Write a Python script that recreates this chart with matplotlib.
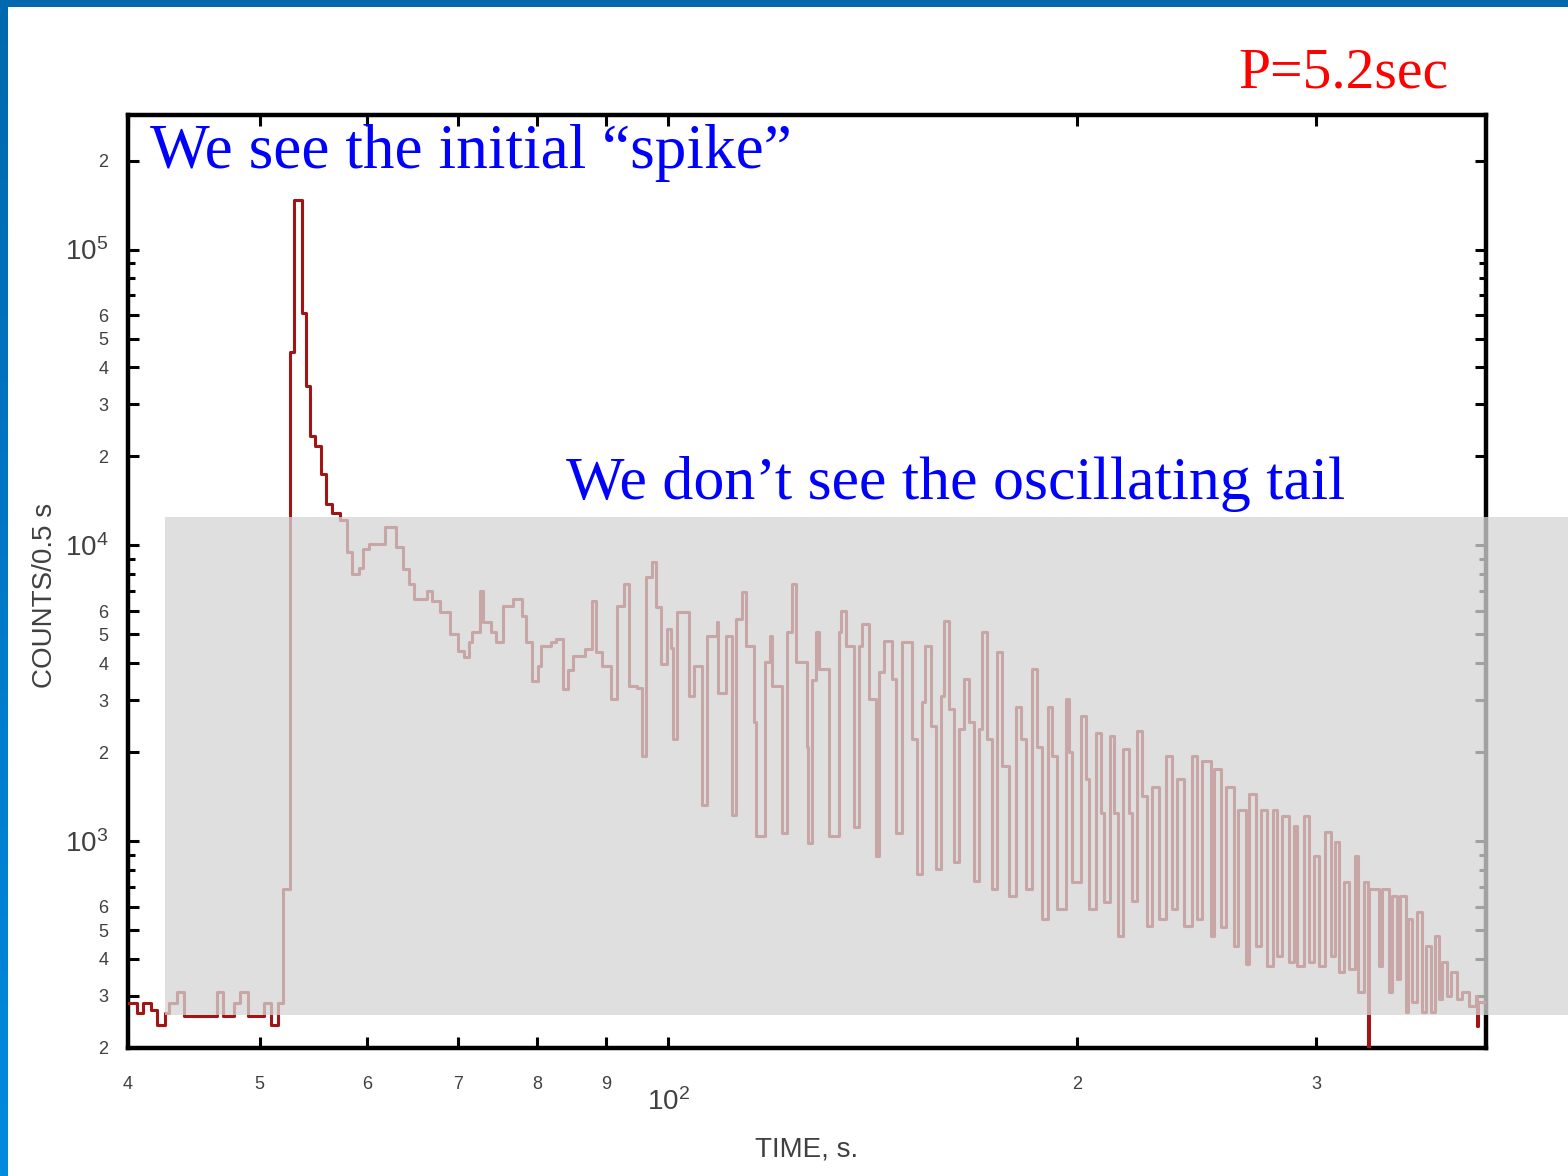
import numpy as np
import matplotlib.pyplot as plt
from matplotlib.patches import Rectangle
from matplotlib.colors import LinearSegmentedColormap
from matplotlib.ticker import FixedLocator, NullFormatter
from matplotlib.transforms import ScaledTranslation

plt.rcParams['mathtext.fontset'] = 'custom'
plt.rcParams['mathtext.rm'] = 'Liberation Sans'
plt.rcParams['mathtext.default'] = 'regular'

# light curve, 0.5 s bins (start time of each step, counts per bin)
time_s = [
    40.0, 40.6, 41.0, 41.6, 42.0, 42.6, 42.9, 43.5, 44.0, 46.5, 47.0, 47.9,
    48.4, 49.0, 50.4, 51.0, 51.6,
    # main spike
    52.0, 52.6, 53.0, 53.7, 54.1, 54.5, 54.9, 55.5, 56.0, 56.5, 57.3, 58.0,
    58.5, 59.2, 59.6, 60.2, 61.8, 63.0, 63.8, 64.4, 65.0, 66.4, 67.0, 67.9,
    69.0, 70.0, 70.7, 71.3, 71.7, 72.6, 73.0, 74.0, 74.7, 75.5, 76.8, 78.0,
    78.6, 79.4, 80.2, 80.6, 82.0, 82.7, 83.6, 84.3, 85.0, 86.8, 87.8, 88.5,
    89.4, 90.8, 91.7, 92.8, 93.6, 94.8, 95.7, 96.3, 97.3, 98.0, 98.8, 99.7,
    100.5, 100.7, 101.5, 103.6, 104.5, 105.9, 106.8, 108.5, 108.7, 110.3,
    111.3, 112.2, 113.2, 114.1, 115.7, 116.1, 117.7, 118.7, 119.3, 121.3,
    122.3, 123.4, 124.2, 126.4, 126.6, 127.6, 128.5, 129.1, 131.3, 133.6,
    134.1, 135.2, 137.0, 138.2, 138.9, 140.6, 142.3, 143.0, 144.2, 146.2,
    147.2, 148.6, 151.2, 152.5, 153.8, 154.6, 156.2, 157.5, 158.8, 159.6,
    161.0, 162.3, 163.7, 165.1, 166.5, 168.0, 169.3, 170.2, 171.7, 173.2,
    174.6, 176.0, 178.2, 180.3, 181.8, 183.4, 185.3, 186.7, 188.4, 190.4,
    191.7, 193.3, 196.3, 197.3, 198.3, 201.4, 203.0, 204.1, 206.5, 208.3,
    209.4, 211.5, 212.9, 214.4, 216.2, 218.4, 219.5, 221.4, 223.3, 225.2,
    227.1, 229.8, 232.5, 234.9, 236.9, 239.8, 243.0, 245.1, 247.2, 251.0,
    252.3, 255.2, 257.4, 260.9, 262.7, 266.3, 267.6, 270.8, 273.1, 275.9,
    278.7, 280.6, 283.0, 286.4, 288.8, 290.3, 293.8, 296.3, 298.8, 301.3,
    304.4, 307.5, 309.6, 311.7, 314.4, 317.1, 320.3, 321.9, 325.2, 327.4,
    328.0, 333.6, 335.3, 339.3, 341.1, 344.0, 345.7, 349.3, 350.5, 352.8,
    355.8, 358.8, 361.3, 364.4, 366.8, 369.3, 371.2, 374.4, 376.9, 380.8,
    384.0, 388.6, 393.2, 393.9, 394.5, 400.0,
]
counts = [
    284, 262, 284, 269, 239, 262, 284, 309, 256, 309, 256, 284,
    309, 256, 284, 239, 284,
    690, 45000, 147000, 61000, 34500, 23400, 21600, 17400, 13800, 12900, 12200, 9500,
    8000, 8400, 9700, 10100, 11500, 9900, 8300, 7400, 6570, 7000, 6500, 5940,
    5000, 4400, 4190, 4700, 5080, 7000, 5500, 5100, 4700, 6220, 6570, 5760,
    4700, 3470, 3900, 4560, 4700, 4810, 3260, 3800, 4220, 4450, 6470, 4350,
    3900, 3020, 6220, 7380, 3340, 3300, 1940, 7800, 8800, 6200, 3960, 5200,
    4500, 2210, 5940, 3090, 3900, 1330, 4930, 5530, 3180, 4930,
    1230, 5620, 6940, 4560, 2520, 1040, 4020, 4930, 3340, 1070,
    5080, 7380, 4020, 2090, 990, 3520, 5080, 3810, 1040, 5080,
    5980, 4560, 1120, 4560, 5410, 3020, 890, 3720, 4740, 3530,
    1070, 4700, 2210, 774, 2950, 4560, 2450, 804, 3090, 5540,
    2790, 849, 2390, 3530, 2520, 733, 2390, 5080, 2210, 688,
    4350, 1790, 652, 2840, 2210, 688, 3810, 2090, 545, 2840,
    1940, 589, 3020, 2000, 727, 2640, 1620, 589, 2330, 1250,
    622, 2260, 1250, 477, 2050, 1250, 627, 2350, 1420, 516,
    1530, 545, 1940, 589, 1620, 516, 1940, 545, 1860, 477,
    1750, 512, 1530, 442, 1280, 384, 1440, 442, 1280, 378,
    1280, 409, 1215, 390, 1124, 378, 1215, 390, 890, 378,
    1072, 409, 992, 361, 727, 369, 890, 309, 727, 190,
    688, 378, 688, 309, 652, 342, 652, 264, 545, 286,
    576, 264, 442, 264, 477, 292, 390, 300, 361, 292,
    309, 277, 300, 237, 286, 286,
]

x_major = [40, 50, 60, 70, 80, 90, 100, 200, 300]
x_labels = ['4', '5', '6', '7', '8', '9', r'$10^2$', '2', '3']
y_major = [200, 300, 400, 500, 600, 1e3, 2e3, 3e3, 4e3, 5e3, 6e3,
           1e4, 2e4, 3e4, 4e4, 5e4, 6e4, 1e5, 2e5]
y_labels = ['2', '3', '4', '5', '6', r'$10^3$', '2', '3', '4', '5', '6',
            r'$10^4$', '2', '3', '4', '5', '6', r'$10^5$', '2']
y_minor = [700, 800, 900, 7e3, 8e3, 9e3, 7e4, 8e4, 9e4]

fig = plt.figure(figsize=(15.68, 11.76), dpi=100)
W, H = 1568, 1176

ax = fig.add_axes([128 / W, 1 - 1048 / H, (1486 - 128) / W, (1048 - 115) / H])
ax.step(time_s, counts, where='post', color='#a31515', lw=2.2, zorder=3)

ax.set_xscale('log')
ax.set_yscale('log')
ax.set_xlim(40, 400)
ax.set_ylim(200, 2.85e5)

ax.xaxis.set_major_locator(FixedLocator(x_major))
ax.set_xticklabels(x_labels)
ax.xaxis.set_minor_locator(FixedLocator([]))
ax.yaxis.set_major_locator(FixedLocator(y_major))
ax.set_yticklabels(y_labels)
ax.yaxis.set_minor_locator(FixedLocator(y_minor))
ax.yaxis.set_minor_formatter(NullFormatter())

lab_color = '#404040'
ax.tick_params(which='both', direction='in', top=True, right=True,
               width=2.2, colors='black', labelcolor=lab_color,
               labelsize=13)
ax.tick_params(which='major', length=8)
ax.tick_params(which='minor', length=5)
ax.tick_params(axis='x', pad=20)
ax.tick_params(axis='y', pad=14)
# decade labels are printed larger than the in-between digits
for lab in ax.get_xticklabels() + ax.get_yticklabels():
    lab.set_fontfamily('Liberation Sans')
    if '10^' in lab.get_text():
        lab.set_fontsize(20)
# the 10^2 label sits a little lower than the other time labels
drop = ScaledTranslation(0, -9 / 72, fig.dpi_scale_trans)
for lab in ax.get_xticklabels():
    if '10^' in lab.get_text():
        lab.set_transform(lab.get_transform() + drop)

for sp in ax.spines.values():
    sp.set_linewidth(3.2)

ax.set_xlabel('TIME, s.', fontsize=20, color=lab_color,
              family='Liberation Sans')
ax.xaxis.set_label_coords(0.5, -(1136 - 1048) / (1048 - 115))
ax.xaxis.label.set_va('top')
ax.set_ylabel('COUNTS/0.5 s', fontsize=20, color=lab_color,
              family='Liberation Sans')
ax.yaxis.set_label_coords(-(128 - 58) / (1486 - 128), (1048 - 595) / (1048 - 115))

# translucent panel hiding the tail
fig.add_artist(Rectangle((165 / W, 1 - 1015 / H), 1 - 165 / W, (1015 - 517) / H,
                         transform=fig.transFigure, facecolor='#d5d5d5',
                         edgecolor='none', alpha=0.76, zorder=5))

serif = ['Liberation Serif', 'DejaVu Serif']
fig.text(150 / W, 1 - 168 / H, 'We see the initial \u201cspike\u201d',
         color='#0000ff', fontsize=45.5, family=serif, va='baseline', zorder=6)
fig.text(566 / W, 1 - 499 / H, 'We don\u2019t see the oscillating tail',
         color='#0000ff', fontsize=44.6, family=serif, va='baseline', zorder=6)
fig.text(1238 / W, 1 - 87 / H, 'P=5.2sec',
         color='#ff0000', fontsize=41.5, family=serif, va='baseline', zorder=6)

# slide frame: top bar and left gradient bar
fig.add_artist(Rectangle((0, 1 - 7 / H), 1, 7 / H, transform=fig.transFigure,
                         facecolor='#0068ae', edgecolor='none', zorder=10))
bar = fig.add_axes([0, 0, 8 / W, 1 - 7 / H], zorder=10)
bar_cmap = LinearSegmentedColormap.from_list('bar', ['#0068ae', '#008ae0'])
bar.imshow(np.linspace(0, 1, 256).reshape(-1, 1), aspect='auto', cmap=bar_cmap)
bar.set_axis_off()

fig.savefig('out.png', dpi=100)
